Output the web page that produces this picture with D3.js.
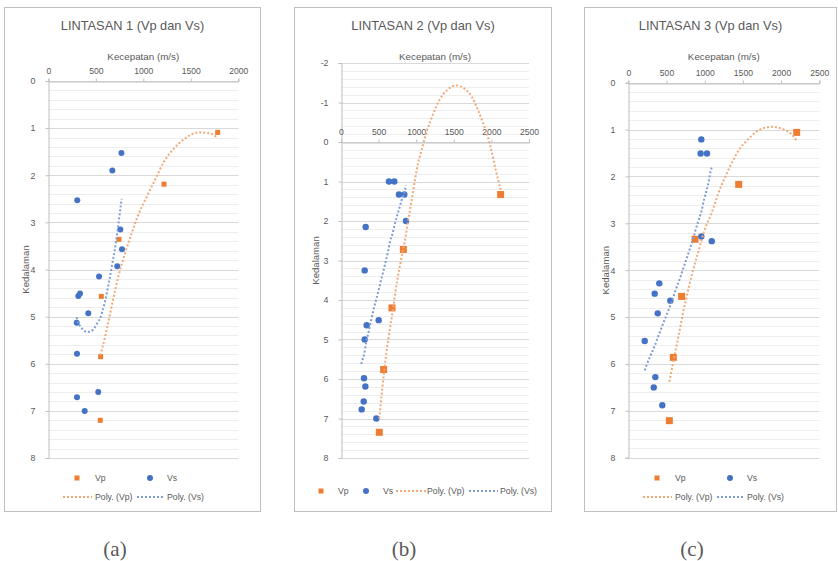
<!DOCTYPE html>
<html>
<head>
<meta charset="utf-8">
<script src="https://cdn.jsdelivr.net/npm/d3@7"></script>
<style>
  body { margin: 0; background: #fff; }
  svg text { font-family: "Liberation Sans", Arial, sans-serif; fill: #595959; }
</style>
</head>
<body>
<svg id="chart" width="838" height="561"></svg>
<script>
// values: [kecepatan m/s, kedalaman]
var vp1 = [[1783,1.09],[1218,2.19],[744,3.36],[558,4.57],[551,5.85],[547,7.2]];
var vs1 = [[770,1.53],[674,1.9],[305,2.53],[758,3.15],[776,3.57],[726,3.93],[534,4.15],
           [334,4.51],[316,4.56],[421,4.93],[299,5.13],[302,5.79],[526,6.6],[302,6.71],[383,7.0]];
var vp2 = [[2123,1.33],[829,2.72],[678,4.2],[567,5.76],[509,7.35]];
var vs2 = [[638,1.0],[709,1.0],[771,1.33],[842,1.33],[864,2.0],[328,2.15],[315,3.25],[501,4.51],
           [341,4.64],[315,5.0],[306,5.98],[324,6.19],[302,6.57],[275,6.77],[470,7.0]];
var vp3 = [[2204,1.06],[1445,2.17],[873,3.34],[698,4.56],[589,5.86],[537,7.21]];
var vs3 = [[956,1.21],[947,1.51],[1030,1.51],[956,3.28],[1092,3.38],[406,4.28],[345,4.5],
           [550,4.65],[385,4.92],[215,5.51],[354,6.28],[333,6.5],[445,6.88]];

// polynomial trendlines
var trendVp1 = [[547,5.82],[568,5.67],[621,5.22],[678,4.68],[737,4.15],[808,3.66],[878,3.23],[947,2.84],
                [1028,2.49],[1123,2.10],[1218,1.71],[1323,1.43],[1439,1.22],[1579,1.09],[1702,1.11],[1783,1.21]];
var trendVs1 = [[299,5.01],[309,5.11],[334,5.20],[362,5.27],[397,5.32],[439,5.32],[481,5.25],[516,5.14],
                [544,5.04],[568,4.90],[597,4.68],[639,4.26],[678,3.83],[713,3.41],[741,2.99],[755,2.77],[772,2.50]];
var trendVp2 = [[509,7.0],[545,6.32],[576,5.77],[608,5.27],[642,4.84],[696,4.17],[749,3.49],[798,2.99],
                [851,2.48],[895,1.97],[940,1.47],[984,0.96],[1006,0.71],[1073,0.20],[1139,-0.26],[1219,-0.68],
                [1308,-1.06],[1414,-1.32],[1538,-1.43],[1636,-1.36],[1738,-1.15],[1813,-0.85],[1884,-0.51],
                [1946,-0.18],[1995,0.18],[2057,0.70],[2092,0.98],[2123,1.22]];
var trendVs2 = [[270,5.62],[284,5.52],[306,5.39],[332,5.10],[368,4.80],[399,4.53],[430,4.27],[461,4.04],
                [496,3.79],[527,3.54],[562,3.28],[594,3.03],[625,2.78],[652,2.52],[687,2.31],[718,2.06],
                [749,1.85],[775,1.68],[807,1.47],[851,1.22],[864,1.09]];
var trendVp3 = [[537,6.38],[568,6.13],[598,5.88],[633,5.60],[668,5.31],[699,5.06],[729,4.81],[764,4.57],
                [798,4.32],[834,4.09],[873,3.85],[916,3.61],[956,3.38],[991,3.18],[1034,3.00],[1082,2.82],
                [1126,2.61],[1170,2.40],[1222,2.18],[1279,1.97],[1331,1.79],[1397,1.58],[1462,1.40],
                [1537,1.26],[1615,1.13],[1702,1.02],[1789,0.96],[1877,0.94],[1963,0.96],[2051,1.01],
                [2139,1.10],[2204,1.24]];
var trendVs3 = [[215,6.14],[241,6.02],[293,5.81],[349,5.60],[406,5.35],[458,5.13],[516,4.89],[568,4.67],
                [620,4.42],[668,4.21],[720,3.96],[764,3.75],[808,3.53],[851,3.32],[886,3.11],[921,2.93],
                [961,2.72],[991,2.50],[1026,2.29],[1056,2.08],[1078,1.88],[1092,1.81]];

var titles = ["LINTASAN 1 (Vp dan Vs)", "LINTASAN 2 (Vp dan Vs)", "LINTASAN 3 (Vp dan Vs)"];
var captions = ["(a)", "(b)", "(c)"];
var xTicks1 = [0, 500, 1000, 1500, 2000];
var xTicks23 = [0, 500, 1000, 1500, 2000, 2500];
var yTicks1 = [0, 1, 2, 3, 4, 5, 6, 7, 8];
var yTicks2 = [-2, -1, 0, 1, 2, 3, 4, 5, 6, 7, 8];
var legendNames = ["Vp", "Vs", "Poly. (Vp)", "Poly. (Vs)"];

var ORANGE = "#ED7D31", BLUE = "#4472C4";
var ORANGE_T = "#F3A877", BLUE_T = "#7E9DD6";

var svg = d3.select("#chart");

function drawPanel(cfg) {
  var g = svg.append("g");

  // frame
  g.append("rect")
    .attr("x", cfg.box[0] + 0.5).attr("y", cfg.box[1] + 0.5)
    .attr("width", cfg.box[2]).attr("height", cfg.box[3])
    .attr("fill", "#fff").attr("stroke", "#bfbfbf");

  var x = d3.scaleLinear().domain(cfg.xDomain).range([cfg.left, cfg.right]);
  var y = d3.scaleLinear().domain(cfg.yDomain).range([cfg.top, cfg.bottom]);

  // minor grid every 0.2
  var minor = d3.range(cfg.yDomain[0] * 5, cfg.yDomain[1] * 5 + 1).map(function (d) { return d / 5; })
    .filter(function (d) { return Math.abs(d - Math.round(d)) > 1e-6; });
  g.selectAll(".minor").data(minor).enter().append("line")
    .attr("x1", cfg.left).attr("x2", cfg.right)
    .attr("y1", function (d) { return Math.round(y(d)) + 0.5; })
    .attr("y2", function (d) { return Math.round(y(d)) + 0.5; })
    .attr("stroke", "#eeeeee");

  g.selectAll(".major").data(cfg.yTicks).enter().append("line")
    .attr("x1", cfg.left).attr("x2", cfg.right)
    .attr("y1", function (d) { return Math.round(y(d)) + 0.5; })
    .attr("y2", function (d) { return Math.round(y(d)) + 0.5; })
    .attr("stroke", "#d9d9d9");

  var plain = function (d) { return String(d); };

  // vertical axis
  var yAxis = d3.axisLeft(y).tickValues(cfg.yTicks).tickFormat(plain).tickSize(3).tickPadding(10);
  var ya = g.append("g").attr("transform", "translate(" + (Math.round(cfg.left) + 0.5) + ",0)").call(yAxis);
  ya.select(".domain").attr("stroke", "#bfbfbf");
  ya.selectAll(".tick line").attr("stroke", "#bfbfbf");
  ya.selectAll("text").style("font-size", "8.8px").attr("fill", "#595959");

  // horizontal axis crossing at depth 0, labels on top
  var ax = Math.round(y(0)) + 0.5;
  var xAxis = d3.axisTop(x).tickValues(cfg.xTicks).tickFormat(plain).tickSize(3).tickPadding(5);
  var xa = g.append("g").attr("transform", "translate(0," + ax + ")").call(xAxis);
  xa.select(".domain").attr("stroke", "#bfbfbf");
  xa.selectAll(".tick line").attr("stroke", "#bfbfbf");
  xa.selectAll("text").style("font-size", "8.6px").attr("fill", "#595959");

  // titles: chart title centred on the frame, axis title on the plot
  g.append("text").attr("x", cfg.box[0] + cfg.box[2] / 2 + 0.5).attr("y", 30)
    .attr("text-anchor", "middle").style("font-size", "12.8px").text(cfg.title);
  g.append("text").attr("x", (cfg.left + cfg.right) / 2).attr("y", 59.5)
    .attr("text-anchor", "middle").style("font-size", "9.8px").text("Kecepatan (m/s)");
  g.append("text")
    .attr("transform", "translate(" + (cfg.box[0] + 24.5) + "," + ((cfg.top + cfg.bottom) / 2) + ") rotate(-90)")
    .attr("text-anchor", "middle").style("font-size", "9.6px").text("Kedalaman");

  // markers
  g.selectAll(".vp").data(cfg.vp).enter().append("rect")
    .attr("x", function (d) { return x(d[0]) - cfg.sq / 2; })
    .attr("y", function (d) { return y(d[1]) - cfg.sq / 2; })
    .attr("width", cfg.sq).attr("height", cfg.sq).attr("fill", ORANGE);
  g.selectAll(".vs").data(cfg.vs).enter().append("circle")
    .attr("cx", function (d) { return x(d[0]); })
    .attr("cy", function (d) { return y(d[1]); })
    .attr("r", cfg.r).attr("fill", BLUE);

  // trendlines on top of the markers
  var line = d3.line()
    .x(function (d) { return x(d[0]); })
    .y(function (d) { return y(d[1]); })
    .curve(d3.curveMonotoneX);
  [[cfg.tVp, ORANGE_T], [cfg.tVs, BLUE_T]].forEach(function (s) {
    g.append("path").attr("d", line(s[0])).attr("fill", "none")
      .attr("stroke", s[1]).attr("stroke-width", 2).attr("stroke-dasharray", "2,2");
  });

  // legend
  var L = cfg.legend, bx = cfg.box[0];
  g.append("rect").attr("x", bx + L.sq[0] - 2.5).attr("y", L.sq[1] - 2.5)
    .attr("width", 5).attr("height", 5).attr("fill", ORANGE);
  g.append("circle").attr("cx", bx + L.ci[0]).attr("cy", L.ci[1]).attr("r", 3).attr("fill", BLUE);
  g.append("line").attr("x1", bx + L.l1[0]).attr("x2", bx + L.l1[1]).attr("y1", L.l1[2]).attr("y2", L.l1[2])
    .attr("stroke", ORANGE_T).attr("stroke-width", 2).attr("stroke-dasharray", "2,2");
  g.append("line").attr("x1", bx + L.l2[0]).attr("x2", bx + L.l2[1]).attr("y1", L.l2[2]).attr("y2", L.l2[2])
    .attr("stroke", BLUE_T).attr("stroke-width", 2).attr("stroke-dasharray", "2,2");
  L.txt.forEach(function (t, i) {
    g.append("text").attr("x", bx + t[0]).attr("y", t[1] + 3)
      .style("font-size", "8.7px").text(legendNames[i]);
  });

  // caption under the frame
  svg.append("text").attr("x", cfg.capX).attr("y", 556).attr("text-anchor", "middle")
    .style("font-family", "'Liberation Serif', 'Times New Roman', serif")
    .style("font-size", "21px").attr("fill", "#000").text(cfg.caption);
}

var legendTwoRows = {
  sq: [73, 478], ci: [146, 478], l1: [59, 88, 497], l2: [133, 161, 497],
  txt: [[91, 478], [163, 478], [91, 497], [163, 497]]
};
var legendOneRow = {
  sq: [27, 491], ci: [72, 491], l1: [102, 132, 491], l2: [175, 204, 491],
  txt: [[44, 491], [89, 491], [133, 491], [206, 491]]
};

drawPanel({
  title: titles[0], caption: captions[0], capX: 115,
  box: [4, 7, 256, 504], left: 48.3, right: 238.3, top: 81, bottom: 458,
  xDomain: [0, 2000], yDomain: [0, 8], xTicks: xTicks1, yTicks: yTicks1,
  vp: vp1, vs: vs1, tVp: trendVp1, tVs: trendVs1, sq: 5, r: 3, legend: legendTwoRows
});
drawPanel({
  title: titles[1], caption: captions[1], capX: 404,
  box: [294, 7, 257, 504], left: 341, right: 529, top: 63, bottom: 458,
  xDomain: [0, 2500], yDomain: [-2, 8], xTicks: xTicks23, yTicks: yTicks2,
  vp: vp2, vs: vs2, tVp: trendVp2, tVs: trendVs2, sq: 7, r: 3.2, legend: legendOneRow
});
drawPanel({
  title: titles[2], caption: captions[2], capX: 692,
  box: [584, 7, 252, 504], left: 628.3, right: 819.3, top: 82.7, bottom: 457.7,
  xDomain: [0, 2500], yDomain: [0, 8], xTicks: xTicks23, yTicks: yTicks1,
  vp: vp3, vs: vs3, tVp: trendVp3, tVs: trendVs3, sq: 7, r: 3.2, legend: legendTwoRows
});
</script>
</body>
</html>
